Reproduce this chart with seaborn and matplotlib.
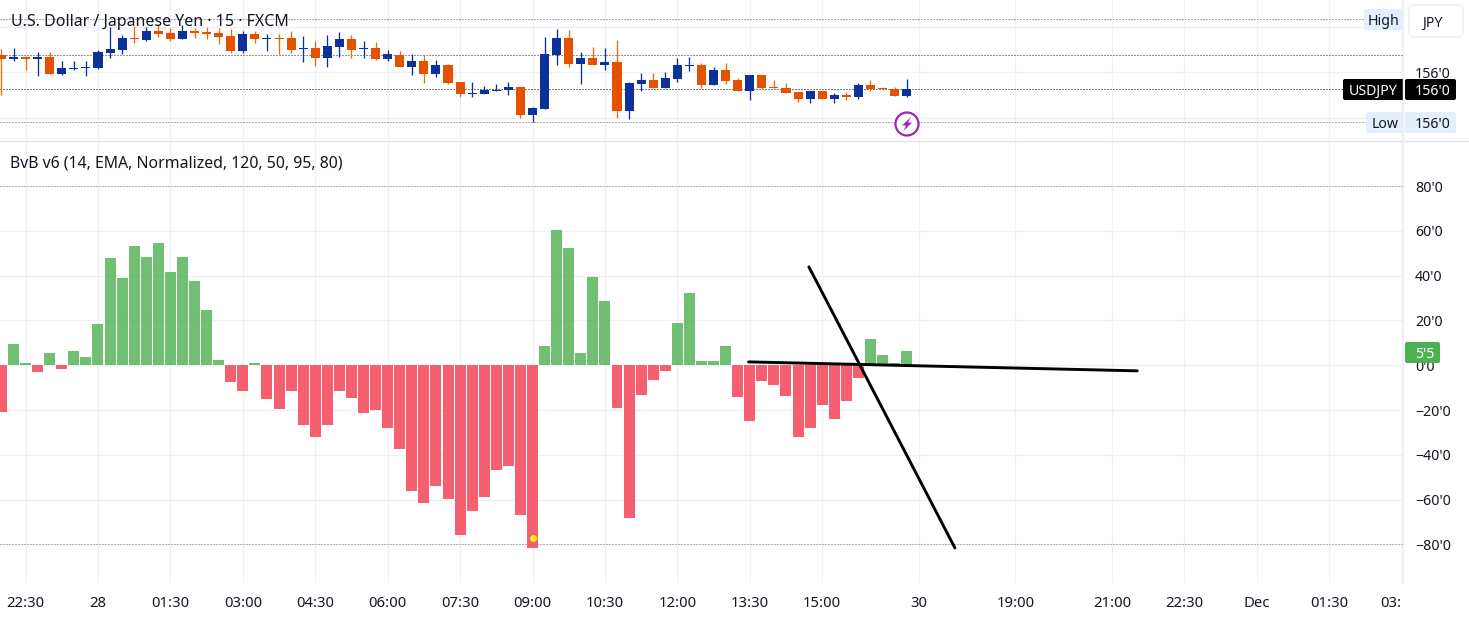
import numpy as np
import pandas as pd
import matplotlib
matplotlib.use("Agg")
import matplotlib.pyplot as plt
from matplotlib.patches import FancyBboxPatch, Circle, Polygon
import seaborn as sns

# bar number, 15 minutes each. -1 is the bar cut off at the left edge
bars = list(range(-1, 75))

# oscillator histogram
bvb = [-21, 9.4, 0.9, -3, 5.4, -1.8, 6.2, 3.6, 18.3, 47.8, 38.8, 53.1, 48.2, 54.5, 41.5, 48.2,
       37.5, 24.6, 2.2, -7.4, -11.6, 0.9, -15.2, -19.6, -11.6, -26.6, -32, -26.6, -11.6, -14.7,
       -21.4, -20, -28, -37.4, -56, -61.5, -54, -59.5, -75.9, -65, -58.8, -46.9, -45, -66.8,
       -81.6, 8.5, 60.3, 52.2, 5.4, 39.3, 28.6, -19.2, -68.3, -13.4, -6.7, -2.7, 18.8, 32.2,
       1.8, 1.8, 8.5, -14.3, -25, -7.1, -9, -13.8, -32.1, -28.1, -17.9, -24.1, -16.1, -5.8,
       11.6, 4.5, 0.9, 6.2]

# candles, in points from the 156'0 line
opens = [52, 40, 46, 40, 46, -5, 10, 13, 13, 58, 67, 103, 97, 124, 118, 100, 124, 121, 118, 109,
         64, 115, 100, 103, 103, 70, 73, 43, 76, 100, 70, 73, 40, 52, 16, 34, -5, 22, -29, -65,
         -65, -56, -53, -44, -128, -110, 52, 103, 25, 43, 22, 31, -116, -35, -23, -47, -20, 19,
         22, -38, 7, -23, -56, -8, -44, -47, -59, -80, -56, -80, -68, -74, -38, -47, -50, -71]
closes = [40, 46, 40, 46, -5, 13, 13, 16, 61, 70, 103, 100, 124, 115, 100, 124, 118, 115, 106, 64,
          115, 100, 103, 100, 67, 73, 43, 79, 100, 67, 73, 40, 55, 16, 34, -5, 22, -32, -65, -62,
          -53, -53, -44, -128, -107, 55, 103, 25, 43, 22, 31, -116, -32, -23, -47, -17, 22, 22,
          -38, 7, -26, -56, -8, -47, -47, -62, -80, -56, -80, -68, -74, -38, -50, -50, -71, -50]
highs = [70, 73, 49, 61, 61, 34, 34, 34, 67, 136, 112, 139, 136, 145, 133, 142, 133, 136, 133, 130,
         124, 124, 115, 115, 124, 109, 94, 112, 121, 112, 94, 91, 67, 64, 55, 52, 37, 25, -29, -29,
         -41, -35, -29, -44, -104, 106, 130, 127, 61, 76, 73, 97, -29, -2, -2, 1, 43, 46,
         28, 16, 28, -17, -8, -8, -23, -32, -59, -56, -56, -62, -59, -32, -23, -44, -44, -20]
lows = [-68, 34, 7, -11, -5, -8, 7, -11, 10, 43, 55, 88, 94, 106, 94, 100, 103, 100, 85, 58,
        58, 88, 64, 55, 58, 31, 19, 16, 46, 43, 43, 37, 34, 16, -8, -32, -14, -35, -74, -74,
        -65, -56, -68, -137, -149, -110, 22, 16, -35, 22, 7, -137, -140, -56, -47, -47, -29, 4,
        -47, -38, -35, -56, -83, -50, -47, -62, -89, -92, -80, -92, -83, -80, -56, -53, -71, -74]

price_lines = [159, 51, -51, -150]
price_line_colors = ["#50525c", "#2a2c33", "#000000", "#5d6069"]
price_grid = [136.5, 0, -136.5]
price_tick_labels = ["", "156'0", ""]

osc_ticks = [80, 60, 40, 20, 0, -20, -40, -60, -80]
osc_tick_labels = ["80'0", "60'0", "40'0", "20'0", "0'0", "\u221220'0", "\u221240'0", "\u221260'0", "\u221280'0"]

time_ticks = [1, 7, 13, 19, 25, 31, 37, 43, 49, 55, 61, 67, 75, 83, 91, 97, 103, 109, 115]
time_labels = ["22:30", "28", "01:30", "03:00", "04:30", "06:00", "07:30", "09:00", "10:30", "12:00",
               "13:30", "15:00", "30", "19:00", "21:00", "22:30", "Dec", "01:30", "03:"]

# the two hand drawn lines
line_a_x = [60.9, 93.1]
line_a_y = [1.5, -2.5]
line_b_x = [65.9, 78.0]
line_b_y = [43.9, -81.6]

# signal dot on the lowest bar
dot_x = [43]
dot_y = [-77]

BLUE = "#0C3299"
ORANGE = "#E65100"
GRID = "#EFF0F3"
TEXT = "#131722"
DOTS = (0, (1, 2))
W, H = 1469, 619

sns.set_theme(style="white")
plt.rcParams["font.family"] = ["Noto Sans", "DejaVu Sans"]

fig = plt.figure(figsize=(W / 100, H / 100), dpi=100)
right = 1402.7
ax_top = fig.add_axes([0, 1 - 140 / H, right / W, 140 / H])
ax_low = fig.add_axes([0, 1 - 583 / H, right / W, (583 - 141) / H])
for ax in (ax_top, ax_low):
    ax.patch.set_alpha(0)
    for s in ax.spines.values():
        s.set_visible(False)
    ax.set_axisbelow(True)

df = pd.DataFrame({"bar": bars, "value": bvb})
df["side"] = np.where(df["value"] >= 0, "up", "down")
sns.barplot(data=df, x="bar", y="value", hue="side", palette={"up": "#60B863", "down": "#F64E5F"},
            native_scale=True, width=0.91, dodge=False, legend=False, saturation=1,
            errorbar=None, alpha=0.9, linewidth=0, ax=ax_low)

xlim = (-13.5 / 12.07, (right - 13.5) / 12.07)

ax_low.set_xlim(xlim)
ax_low.set_ylim(-97.2, 100.1)
ax_low.set_xticks(time_ticks)
ax_low.set_xticklabels(time_labels, fontsize=10.7, color=TEXT)
ax_low.get_xticklabels()[time_labels.index("Dec")].set_fontweight("bold")
ax_low.get_xticklabels()[-1].set_ha("right")
ax_low.set_yticks(osc_ticks)
ax_low.set_yticklabels(osc_tick_labels, fontsize=10.2, color=TEXT, ha="left", va="center_baseline")
ax_low.yaxis.tick_right()
ax_low.tick_params(axis="x", length=0, pad=9.5)
ax_low.tick_params(axis="y", length=0, pad=9)
ax_low.grid(True, color=GRID, lw=1)
ax_low.set_xlabel("")
ax_low.set_ylabel("")
for v in (80, -80):
    ax_low.axhline(v, color="#7a7d86", lw=0.72, ls=DOTS, zorder=1)
ax_low.plot(dot_x, dot_y, "o", color="#F7F700", ms=5, mew=0, zorder=5)
ax_low.plot(line_a_x, line_a_y, color="black", lw=2.1, solid_capstyle="round", zorder=6)
ax_low.plot(line_b_x, line_b_y, color="black", lw=2.1, solid_capstyle="round", zorder=6)

# candles
o = np.array(opens)
c = np.array(closes)
colors = [BLUE if cl > op else ORANGE for op, cl in zip(o, c)]
wick_colors = [BLUE if cl > op else "#EF6C00" for op, cl in zip(o, c)]
ax_top.vlines(bars, lows, highs, colors=wick_colors, lw=0.95, zorder=3)
ax_top.bar(bars, np.maximum(np.abs(c - o), 3), bottom=np.minimum(o, c), width=0.75, color=colors,
           linewidth=0, zorder=4)
ax_top.set_xlim(xlim)
ax_top.set_ylim(-203, 217)
ax_top.set_xticks(time_ticks)
ax_top.set_xticklabels([])
ax_top.set_yticks(price_grid)
ax_top.set_yticklabels(price_tick_labels, fontsize=10.2, color=TEXT, ha="left", va="center_baseline")
ax_top.yaxis.tick_right()
ax_top.tick_params(axis="both", length=0)
ax_top.tick_params(axis="y", pad=9)
ax_top.grid(True, color=GRID, lw=1)
for v, col in zip(price_lines, price_line_colors):
    ax_top.axhline(v, color=col, lw=0.72, ls=DOTS, zorder=2)

# overlay in pixels for the tags and titles
ov = fig.add_axes([0, 0, 1, 1], zorder=10)
ov.set_xlim(0, W)
ov.set_ylim(H, 0)
ov.axis("off")
ov.patch.set_alpha(0)
ov.plot([0, W], [140.5, 140.5], color="#E0E3EB", lw=1)
ov.plot([right, right], [0, 583], color=GRID, lw=1)


def tag(x0, x1, y0, y1, face, label, col, tx=None, edge="none", rad=2):
    ov.add_patch(FancyBboxPatch((x0 + rad, y0 + rad), x1 - x0 - 2 * rad, y1 - y0 - 2 * rad,
                                boxstyle=f"round,pad={rad},rounding_size={rad}",
                                facecolor=face, edgecolor=edge, lw=1))
    ov.text((x0 + x1) / 2 if tx is None else tx, (y0 + y1) / 2, label, color=col, fontsize=10.2,
            ha="center", va="center_baseline")


tag(1364, 1404, 9, 30, "#E3EFFD", "High", TEXT)
tag(1409, 1463, 5, 37, "white", "JPY", TEXT, tx=1432, edge="#EBEDF0", rad=5)
tag(1343, 1404, 79, 100, "#000000", "USDJPY", "white")
tag(1405, 1456, 79, 100, "#000000", "156'0", "white", tx=1433)
tag(1366, 1404, 112, 133, "#E3EFFD", "Low", TEXT)
tag(1405, 1456, 112, 133, "#E3EFFD", "156'0", TEXT, tx=1433)
tag(1405, 1440, 342, 363, "#4CAF50", "5'5", "white", tx=1425)

ov.text(11, 20, "U.S. Dollar / Japanese Yen \u00b7 15 \u00b7 FXCM", fontsize=11.5, fontweight="bold",
        color=TEXT, va="center_baseline")
ov.text(10, 161, "BvB v6 (14, EMA, Normalized, 120, 50, 95, 80)", fontsize=11.4, color=TEXT,
        va="center_baseline")

# alert icon
ov.add_patch(Circle((907, 124), 11.5, facecolor="white", edgecolor="#9C27B0", lw=1.6))
bolt = np.array([[4, -7], [-5, 1.5], [-1, 1.5], [-3.5, 7], [5, -1.5], [1, -1.5]]) + [907, 124]
ov.add_patch(Polygon(bolt, closed=True, facecolor="#9C27B0", edgecolor="none"))

fig.savefig("out.png", dpi=100, facecolor="white")
